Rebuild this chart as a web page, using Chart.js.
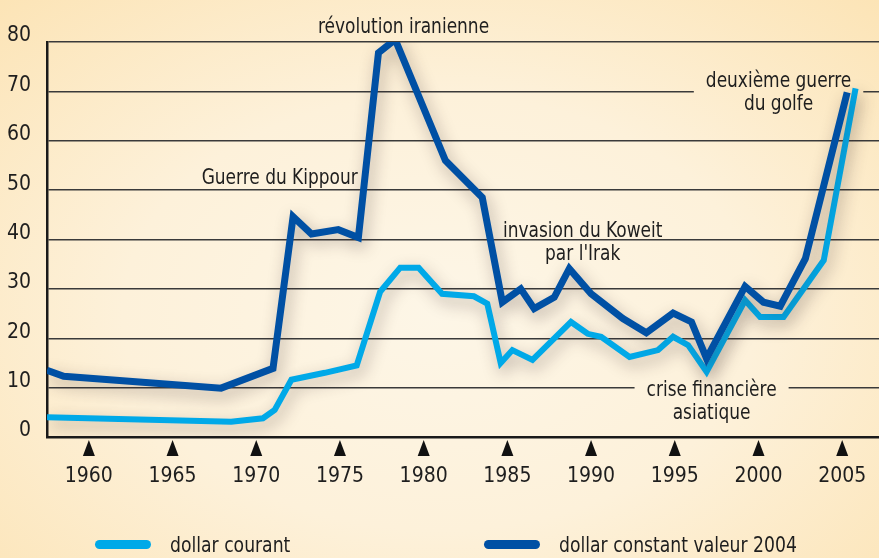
<!DOCTYPE html>
<html>
<head>
<meta charset="utf-8">
<script src="https://cdn.jsdelivr.net/npm/chart.js@4.4.1/dist/chart.umd.min.js"></script>
<style>
  html, body { margin: 0; padding: 0; }
  body {
    width: 879px; height: 558px; overflow: hidden; position: relative;
    background: radial-gradient(ellipse 72% 78% at 50% 56%, #fdf6e7 0%, #fdf1da 50%, #fce4b6 100%);
    font-family: 'DejaVu Sans Condensed', sans-serif;
  }
  #oilChart { position: absolute; left: 0; top: 0; }
  #legend { position: absolute; left: 0; top: 532px; width: 879px; height: 28px; }
  .item { position: absolute; top: 0; display: flex; align-items: center; font-size: 22px; color: #1e1e1e; }
  .sw { display: inline-block; width: 56px; height: 9px; border-radius: 5px; margin-right: 19px; }
  .tx { display: inline-block; transform: scaleX(0.87); transform-origin: left center; white-space: nowrap; }
</style>
</head>
<body>
<canvas id="oilChart" width="879" height="558"></canvas>
<div id="legend"></div>
<script>
var FONT = "'DejaVu Sans Condensed', sans-serif";

// prix du baril
var tickYears = [1960, 1965, 1970, 1975, 1980, 1985, 1990, 1995, 2000, 2005];
var yTicks = [0, 10, 20, 30, 40, 50, 60, 70, 80];

var courantYears = [1957.5, 1968.5, 1970.4, 1971.1, 1972.1, 1974.1, 1976.0, 1977.4, 1978.6, 1979.7,
  1981.1, 1983.0, 1983.8, 1984.6, 1985.3, 1986.5, 1988.8, 1989.8, 1990.6, 1992.3,
  1994.0, 1994.9, 1995.8, 1996.9, 1999.2, 2000.1, 2001.5, 2003.9, 2005.8];
var courantValues = [4.0, 3.1, 3.8, 5.5, 11.6, 13.0, 14.5, 29.4, 34.3, 34.3,
  29.0, 28.5, 27.0, 15.0, 17.6, 15.6, 23.3, 20.9, 20.3, 16.2,
  17.6, 20.3, 18.6, 13.2, 27.7, 24.3, 24.3, 35.8, 70.6];

var constantYears = [1957.5, 1958.5, 1967.9, 1971.0, 1972.2, 1973.3, 1974.9, 1976.1, 1977.3, 1978.3,
  1981.3, 1983.5, 1984.7, 1985.8, 1986.6, 1987.8, 1988.7, 1990.0, 1991.9, 1993.3,
  1994.9, 1996.0, 1996.9, 1999.2, 2000.3, 2001.3, 2002.8, 2005.3];
var constantValues = [13.5, 12.3, 9.9, 13.9, 44.6, 41.1, 42.0, 40.4, 77.8, 80.5,
  56.0, 48.5, 27.3, 30.0, 26.0, 28.3, 34.1, 29.0, 24.0, 21.1,
  25.1, 23.3, 15.9, 30.5, 27.3, 26.5, 36.1, 69.8];

var seriesLabels = ['dollar courant', 'dollar constant valeur 2004'];
var seriesColors = ['#00a9e8', '#0050a4'];

// événements annotés
var notes = [
  { lines: ['révolution iranienne'], year: 1978.8, value: 81.8 },
  { lines: ['Guerre du Kippour'], year: 1971.4, value: 51.3 },
  { lines: ['invasion du Koweit', "par l'Irak"], year: 1989.5, value: 40.5 },
  { lines: ['crise financière', 'asiatique'], year: 1997.2, value: 8.3, mask: true },
  { lines: ['deuxième guerre', 'du golfe'], year: 2001.2, value: 70.8, mask: true }
];

var NOTE_SQUEEZE = 0.9;

function toPoints(xs, ys) {
  return xs.map(function (x, i) { return { x: x, y: ys[i] }; });
}

var shadowPlugin = {
  id: 'lineShadow',
  beforeDatasetDraw: function (chart) {
    var ctx = chart.ctx;
    ctx.save();
    ctx.shadowColor = 'rgba(60, 45, 45, 0.38)';
    ctx.shadowBlur = 16;
    ctx.shadowOffsetX = 3;
    ctx.shadowOffsetY = 6;
  },
  afterDatasetDraw: function (chart) {
    chart.ctx.restore();
  }
};

function noteLayout(chart, n) {
  var ctx = chart.ctx;
  var cx = chart.scales.x.getPixelForValue(n.year);
  var by = chart.scales.y.getPixelForValue(n.value);
  var w = 0;
  n.lines.forEach(function (l) { w = Math.max(w, ctx.measureText(l).width); });
  return { cx: cx, by: by, w: w * NOTE_SQUEEZE };
}

var notesPlugin = {
  id: 'notes',
  beforeDatasetsDraw: function (chart) {
    var ctx = chart.ctx;
    ctx.save();
    ctx.font = '21px ' + FONT;
    ctx.globalCompositeOperation = 'destination-out';
    notes.forEach(function (n) {
      if (!n.mask) return;
      var L = noteLayout(chart, n);
      ctx.fillRect(L.cx - L.w / 2 - 12, L.by - 18, L.w + 24, 23 * n.lines.length + 2);
    });
    ctx.restore();
  },
  afterDatasetsDraw: function (chart) {
    var ctx = chart.ctx;
    ctx.save();
    ctx.font = '21px ' + FONT;
    ctx.fillStyle = '#1e1e1e';
    ctx.textAlign = 'center';
    ctx.textBaseline = 'alphabetic';
    notes.forEach(function (n) {
      var L = noteLayout(chart, n);
      n.lines.forEach(function (l, i) {
        ctx.save();
        ctx.translate(L.cx, L.by + i * 23);
        ctx.scale(NOTE_SQUEEZE, 1);
        ctx.fillText(l, 0, 0);
        ctx.restore();
      });
    });
    ctx.restore();
  }
};

// petits triangles sous l'axe des années
var arrowsPlugin = {
  id: 'arrows',
  afterDraw: function (chart) {
    var ctx = chart.ctx;
    var xs = chart.scales.x;
    var bottom = chart.chartArea.bottom;
    ctx.save();
    ctx.fillStyle = '#111';
    xs.ticks.forEach(function (t, i) {
      var px = xs.getPixelForTick(i);
      ctx.beginPath();
      ctx.moveTo(px, bottom + 3);
      ctx.lineTo(px + 6, bottom + 19);
      ctx.lineTo(px - 6, bottom + 19);
      ctx.closePath();
      ctx.fill();
    });
    ctx.restore();
  }
};

var ctx = document.getElementById('oilChart').getContext('2d');

var myChart = new Chart(ctx, {
  type: 'line',
  data: {
    datasets: [
      {
        label: seriesLabels[0],
        data: toPoints(courantYears, courantValues),
        borderColor: seriesColors[0],
        borderWidth: 6,
        pointRadius: 0,
        tension: 0,
        borderJoinStyle: 'miter',
        order: 1
      },
      {
        label: seriesLabels[1],
        data: toPoints(constantYears, constantValues),
        borderColor: seriesColors[1],
        borderWidth: 7,
        pointRadius: 0,
        tension: 0,
        borderJoinStyle: 'miter',
        order: 0
      }
    ]
  },
  options: {
    responsive: false,
    animation: false,
    layout: { padding: { top: 42, right: 0, bottom: 0, left: 0 } },
    plugins: {
      legend: { display: false },
      tooltip: { enabled: false }
    },
    scales: {
      x: {
        type: 'linear',
        min: 1957.5,
        max: 2007.2,
        afterBuildTicks: function (scale) {
          scale.ticks = tickYears.map(function (v) { return { value: v }; });
        },
        afterFit: function (scale) {
          scale.height = 121;
          scale.paddingLeft = 0;
          scale.paddingRight = 0;
        },
        grid: { display: false, drawTicks: false },
        border: { display: true, color: '#1a1a1a', width: 2.5 },
        ticks: {
          padding: 27,
          color: '#1e1e1e',
          font: { family: FONT, size: 21 },
          callback: function (v) { return String(v); }
        }
      },
      y: {
        min: 0,
        max: 80,
        afterBuildTicks: function (scale) {
          scale.ticks = yTicks.map(function (v) { return { value: v }; });
        },
        afterFit: function (scale) { scale.width = 47; },
        grid: { color: '#3a3a3a', lineWidth: 1.5, drawTicks: false },
        border: { display: true, color: '#1a1a1a', width: 2.5 },
        ticks: {
          padding: 16,
          labelOffset: -6,
          color: '#1e1e1e',
          font: { family: FONT, size: 21 }
        }
      }
    }
  },
  plugins: [shadowPlugin, notesPlugin, arrowsPlugin]
});

// légende
var legend = document.getElementById('legend');
var legendLeft = [95, 484];
myChart.data.datasets.forEach(function (ds, i) {
  var item = document.createElement('div');
  item.className = 'item';
  item.style.left = legendLeft[i] + 'px';
  var sw = document.createElement('span');
  sw.className = 'sw';
  sw.style.background = ds.borderColor;
  var tx = document.createElement('span');
  tx.className = 'tx';
  tx.textContent = ds.label;
  item.appendChild(sw);
  item.appendChild(tx);
  legend.appendChild(item);
});
</script>
</body>
</html>
